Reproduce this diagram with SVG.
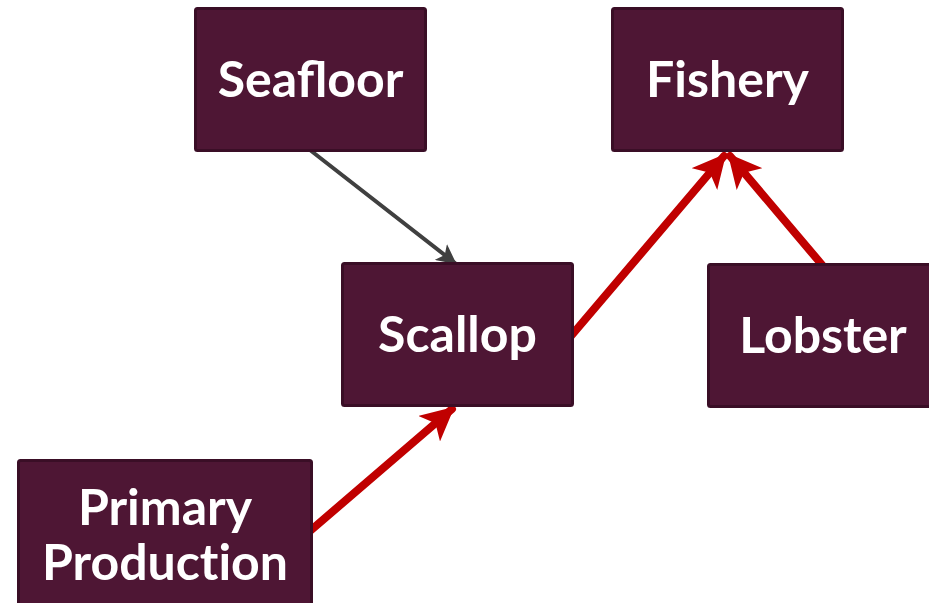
<svg xmlns="http://www.w3.org/2000/svg" width="929" height="603" viewBox="0 0 929 603">
  <style>
    .box { fill: #4E1634; stroke: #3A0E26; stroke-width: 3; }
    .label { font-family: Lato, "Open Sans", sans-serif; font-weight: bold; font-size: 50px; fill: #FFFFFF; text-anchor: middle; }
    .noliga { font-variant-ligatures: none; }
    .red { stroke: #C00000; stroke-width: 8; stroke-linecap: round; fill: none; }
    .gray { stroke: #404040; stroke-width: 4; stroke-linecap: round; fill: none; }
  </style>
  <defs>
    <marker id="headRed" viewBox="0 0 10 10" refX="9" refY="5" markerWidth="4.2" markerHeight="4.2" orient="auto" markerUnits="strokeWidth">
      <path d="M0,0 L10,5 L0,10 L2.5,5 Z" fill="#C00000"/>
    </marker>
    <marker id="headGray" viewBox="0 0 10 10" refX="9" refY="5" markerWidth="5" markerHeight="5" orient="auto" markerUnits="strokeWidth">
      <path d="M0,0 L10,5 L0,10 L2.5,5 Z" fill="#404040"/>
    </marker>
  </defs>

  <g id="connectors">
    <line class="gray" x1="310" y1="150" x2="455" y2="263" marker-end="url(#headGray)"/>
    <line class="red" x1="310" y1="531" x2="452" y2="409" marker-end="url(#headRed)"/>
    <line class="red" x1="571" y1="336" x2="724" y2="156" marker-end="url(#headRed)"/>
    <line class="red" x1="823" y1="266" x2="730" y2="156" marker-end="url(#headRed)"/>
  </g>

  <g id="seafloor">
    <rect class="box" x="195.5" y="8.5" width="230" height="142" rx="2"/>
    <text class="label" x="310.5" y="97">Seafloor</text>
  </g>
  <g id="fishery">
    <rect class="box" x="612.5" y="8.5" width="230" height="142" rx="2"/>
    <text class="label" x="727.5" y="97">Fishery</text>
  </g>
  <g id="scallop">
    <rect class="box" x="342.5" y="263.5" width="230" height="142" rx="2"/>
    <text class="label" x="457.5" y="352">Scallop</text>
  </g>
  <g id="lobster">
    <rect class="box" x="708.5" y="264.5" width="230" height="142" rx="2"/>
    <text class="label" x="823" y="353">Lobster</text>
  </g>
  <g id="primary-production">
    <rect class="box" x="18.5" y="460.5" width="293" height="150" rx="2"/>
    <text class="label" x="165" y="525">Primary</text>
    <text class="label noliga" x="165" y="580">Production</text>
  </g>
</svg>
